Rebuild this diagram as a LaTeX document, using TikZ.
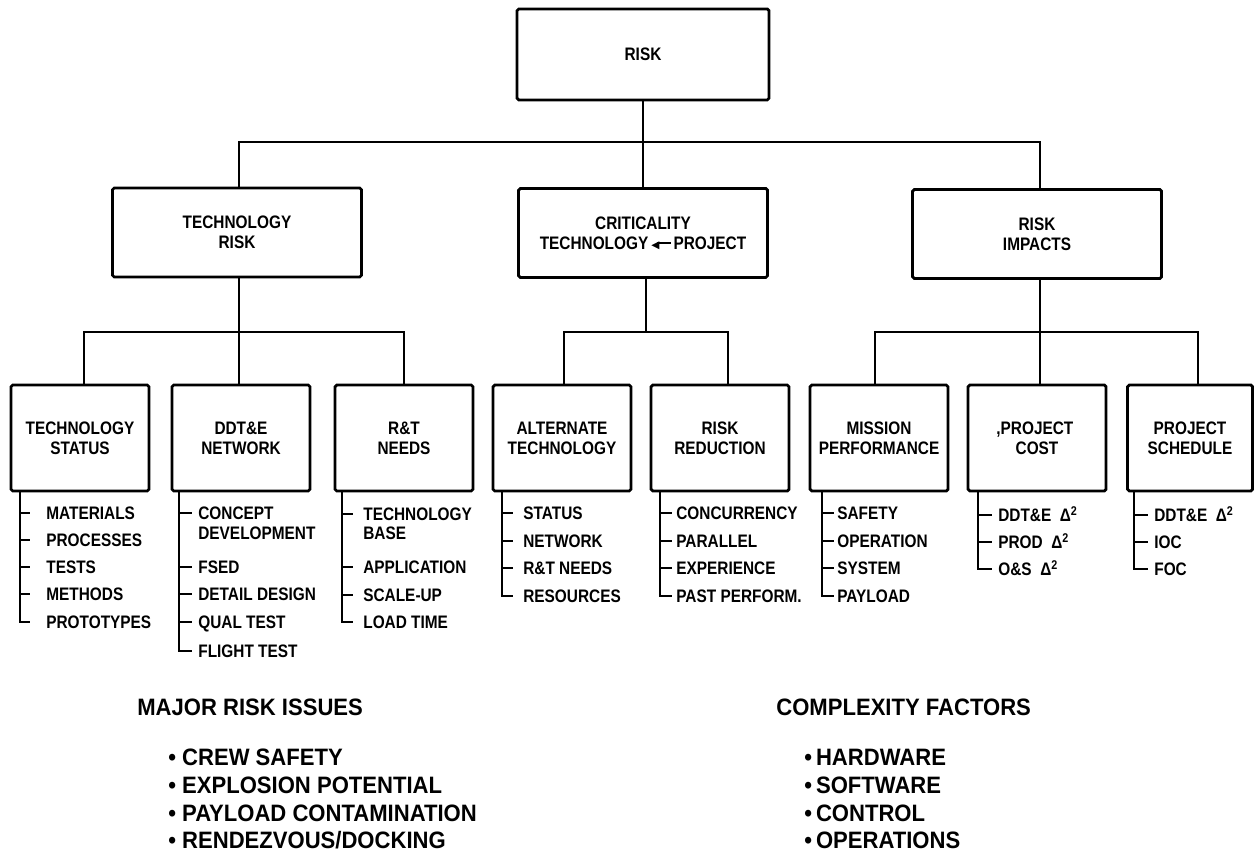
\documentclass[tikz,border=0pt]{standalone}
\usepackage{fontspec}
\setmainfont{Liberation Sans}
\newfontfamily\lblfont{Liberation Sans}[FakeStretch=0.85]
\newfontfamily\notefont{Liberation Sans}[FakeStretch=0.93]
\newfontfamily\arrowfont{DejaVu Sans}
\newcommand\boxtext{\lblfont\bfseries\fontsize{10.3pt}{11.4pt}\selectfont}
\newcommand\notetext{\notefont\bfseries\fontsize{13.5pt}{15pt}\selectfont}
% a short left-pointing arrow with a filled head
\newcommand\leftarr{{\arrowfont\fontsize{6pt}{6pt}\selectfont\raisebox{0.6pt}{◀}}\kern-1.2pt\rule[2.9pt]{7.5pt}{1.4pt}}

\tikzset{
  box/.style={draw, line width=1.6pt, rounded corners=1pt, align=center,
              font=\boxtext, inner sep=0pt},
  lvlone/.style={box, minimum width=50.4mm, minimum height=18.2mm},
  lvltwo/.style={box, minimum width=49.8mm, minimum height=17.8mm},
  lvlthree/.style={box, minimum width=27.6mm, minimum height=21.2mm},
  link/.style={line width=1.1pt},
  stem/.style={line width=1.4pt},
  itm/.style={anchor=west, inner sep=0pt, font=\boxtext,
              text height=7.4pt, text depth=0pt},
  note/.style={anchor=west, inner sep=0pt, font=\notetext,
               text height=9.6pt, text depth=0pt}
}

\begin{document}
\begin{tikzpicture}[x=0.2mm, y=-0.2mm]
\useasboundingbox (0,0) rectangle (1255,853);

% ---------- levels 1 and 2 ----------
\node[lvlone] (risk) at (643,54.5) {RISK};
\node[lvltwo] (tr) at (237,232.5) {TECHNOLOGY\\RISK};
\node[lvltwo] (cr) at (643,233) {CRITICALITY\\TECHNOLOGY\,\leftarr\,PROJECT};
\node[lvltwo] (ri) at (1037,234) {RISK\\IMPACTS};

% ---------- level 3 ----------
\node[lvlthree] (ts)   at (80,438)   {TECHNOLOGY\\STATUS};
\node[lvlthree] (dd)   at (241,438)  {DDT\&E\\NETWORK};
\node[lvlthree] (rt)   at (404,438)  {R\&T\\NEEDS};
\node[lvlthree] (alt)  at (562,438)  {ALTERNATE\\TECHNOLOGY};
\node[lvlthree] (rr)   at (720,438)  {RISK\\REDUCTION};
\node[lvlthree] (mis)  at (879,438)  {MISSION\\PERFORMANCE};
\node[lvlthree] (cost) at (1037,438) {\llap{,}PROJECT\\COST};
\node[lvlthree, minimum width=25mm] (sc) at (1190,438) {PROJECT\\SCHEDULE};

% ---------- tree connectors ----------
\coordinate (top-bar) at (645,142);
\coordinate (tr-bar) at (239,332);
\coordinate (cr-bar) at (646,332);
\coordinate (ri-bar) at (1040,332);

\draw[link] (risk.south) -- (risk.south |- cr.north);
\draw[link] (tr.north -| tr-bar) |- (top-bar) -| (ri.north -| ri-bar);

\draw[link] (tr.south -| tr-bar) -- (tr-bar);
\draw[link] ([xshift=0.8mm]ts.north) |- (tr-bar) -| (rt.north);
\draw[link] (dd.north -| tr-bar) -- (tr-bar);

\draw[link] (cr.south -| cr-bar) -- (cr-bar);
\draw[link] ([xshift=0.4mm]alt.north) |- (cr-bar) -| ([xshift=1.6mm]rr.north);

\draw[link] (ri.south -| ri-bar) -- (ri-bar);
\draw[link] ([xshift=-0.8mm]mis.north) |- (ri-bar) -| ([xshift=1.6mm]sc.north);
\draw[link] (cost.north -| ri-bar) -- (ri-bar);

% ---------- item lists ----------
\coordinate (ts-s)   at (20,491);
\coordinate (dd-s)   at (179,491);
\coordinate (rt-s)   at (342,491);
\coordinate (alt-s)  at (502,491);
\coordinate (rr-s)   at (660,491);
\coordinate (mis-s)  at (822,491);
\coordinate (cost-s) at (978,491);
\coordinate (sc-s)   at (1134,491);

% technology status
\node[itm] (ts1) at (46,513)   {MATERIALS};
\node[itm] (ts2) at (46,540)   {PROCESSES};
\node[itm] (ts3) at (46,567)   {TESTS};
\node[itm] (ts4) at (46,594)   {METHODS};
\node[itm] (ts5) at (46,622)   {PROTOTYPES};
\foreach \n in {ts1,ts2,ts3,ts4,ts5}
  \draw[stem] (ts-s) |- ([xshift=-3.2mm]\n.west);

% DDT&E network
\node[itm] (dd1)  at (198,513) {CONCEPT};
\node[itm] (dd1b) at (198,533) {DEVELOPMENT};
\node[itm] (dd2)  at (198,567) {FSED};
\node[itm] (dd3)  at (198,594) {DETAIL DESIGN};
\node[itm] (dd4)  at (198,622) {QUAL TEST};
\node[itm] (dd5)  at (198,651) {FLIGHT TEST};
\foreach \n in {dd1,dd2,dd3,dd4,dd5}
  \draw[stem] (dd-s) |- ([xshift=-1.2mm]\n.west);

% R&T needs
\node[itm] (rt1)  at (363,514) {TECHNOLOGY};
\node[itm] (rt1b) at (363,533) {BASE};
\node[itm] (rt2)  at (363,567) {APPLICATION};
\node[itm] (rt3)  at (363,595) {SCALE-UP};
\node[itm] (rt4)  at (363,622) {LOAD TIME};
\foreach \n in {rt1,rt2,rt3,rt4}
  \draw[stem] (rt-s) |- ([xshift=-2mm]\n.west);

% alternate technology
\node[itm] (alt1) at (523,513) {STATUS};
\node[itm] (alt2) at (523,541) {NETWORK};
\node[itm] (alt3) at (523,568) {R\&T NEEDS};
\node[itm] (alt4) at (523,596) {RESOURCES};
\foreach \n in {alt1,alt2,alt3,alt4}
  \draw[stem] (alt-s) |- ([xshift=-2mm]\n.west);

% risk reduction
\node[itm] (rr1) at (676,513) {CONCURRENCY};
\node[itm] (rr2) at (676,541) {PARALLEL};
\node[itm] (rr3) at (676,568) {EXPERIENCE};
\node[itm] (rr4) at (676,596) {PAST PERFORM.};
\foreach \n in {rr1,rr2,rr3,rr4}
  \draw[stem] (rr-s) |- ([xshift=-0.8mm]\n.west);

% mission performance
\node[itm] (mis1) at (837,513) {SAFETY};
\node[itm] (mis2) at (837,541) {OPERATION};
\node[itm] (mis3) at (837,568) {SYSTEM};
\node[itm] (mis4) at (837,596) {PAYLOAD};
\foreach \n in {mis1,mis2,mis3,mis4}
  \draw[stem] (mis-s) |- ([xshift=-0.6mm]\n.west);

% project cost
\node[itm] (cost1) at (998,515) {DDT\&E\ \ Δ\textsuperscript{2}};
\node[itm] (cost2) at (998,542) {PROD\ \ Δ\textsuperscript{2}};
\node[itm] (cost3) at (998,569) {O\&S\ \ Δ\textsuperscript{2}};
\foreach \n in {cost1,cost2,cost3}
  \draw[stem] (cost-s) |- ([xshift=-1.2mm]\n.west);

% project schedule
\node[itm] (sc1) at (1154,515) {DDT\&E\ \ Δ\textsuperscript{2}};
\node[itm] (sc2) at (1154,542) {IOC};
\node[itm] (sc3) at (1154,569) {FOC};
\foreach \n in {sc1,sc2,sc3}
  \draw[stem] (sc-s) |- ([xshift=-1.2mm]\n.west);

% ---------- notes ----------
\node[note] (mri) at (137,707) {MAJOR RISK ISSUES};
\node[note] (mri1) at (168,757) {• CREW SAFETY};
\node[note] (mri2) at (168,785) {• EXPLOSION POTENTIAL};
\node[note] (mri3) at (168,813) {• PAYLOAD CONTAMINATION};
\node[note] (mri4) at (168,840) {• RENDEZVOUS/DOCKING};

\node[note] (cf) at (776,707) {COMPLEXITY FACTORS};
\node[note] (cf1) at (804,757) {•\,HARDWARE};
\node[note] (cf2) at (804,785) {•\,SOFTWARE};
\node[note] (cf3) at (804,813) {•\,CONTROL};
\node[note] (cf4) at (804,840) {•\,OPERATIONS};
\end{tikzpicture}
\end{document}
